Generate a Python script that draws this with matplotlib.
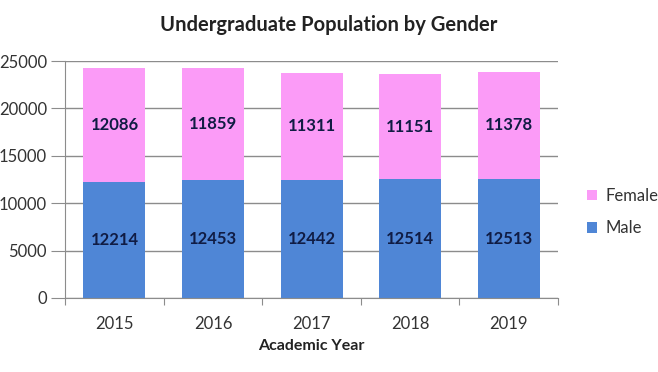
import numpy as np
import matplotlib.pyplot as plt

# Datos
years = ['2015', '2016', '2017', '2018', '2019']
male = [12214, 12453, 12442, 12514, 12513]
female = [12086, 11859, 11311, 11151, 11378]

plt.rcParams['font.family'] = ['Lato', 'DejaVu Sans']

fig = plt.figure(figsize=(6.58, 3.72), dpi=100)
ax = fig.add_axes([0.099, 0.199, 0.749, 0.637])

x = np.arange(len(years))
c_male = '#4f86d6'
c_female = '#fb9bf7'
c_text = '#101c44'

b1 = ax.bar(x, male, width=0.63, color=c_male, label='Male', zorder=2)
b2 = ax.bar(x, female, width=0.63, bottom=male, color=c_female, label='Female', zorder=2)

ax.bar_label(b1, labels=[str(v) for v in male], label_type='center',
             fontsize=12, fontweight='bold', color=c_text)
ax.bar_label(b2, labels=[str(v) for v in female], label_type='center',
             fontsize=12, fontweight='bold', color=c_text)

ax.set_xlim(-0.5, len(years) - 0.5)
ax.set_ylim(0, 25000)
ax.set_yticks(np.arange(0, 25001, 5000))
ax.yaxis.grid(True, color='#8c8c8c', linewidth=1, zorder=0)
ax.set_axisbelow(True)

# ticks de categoria en los limites (estilo Excel)
ax.set_xticks(np.arange(-0.5, len(years), 1))
ax.set_xticklabels([])
ax.set_xticks(x, minor=True)
ax.set_xticklabels(years, minor=True)
ax.tick_params(axis='x', which='minor', length=0, pad=13, labelsize=12, labelcolor='#333333')
ax.tick_params(axis='x', which='major', length=5, color='#8c8c8c')
ax.tick_params(axis='y', length=10, color='#8c8c8c', labelsize=12, labelcolor='#333333', pad=3)

for s in ['top', 'right']:
    ax.spines[s].set_visible(False)
for s in ['left', 'bottom']:
    ax.spines[s].set_color('#8c8c8c')

ax.set_xlabel('Academic Year', fontsize=11.5, fontweight='bold', color='#222222', labelpad=5)
fig.suptitle('Undergraduate Population by Gender', x=0.5, y=0.96,
             fontsize=14.5, fontweight='bold', color='#222222')

handles = [b2, b1]
fig.legend(handles, ['Female', 'Male'], loc='center left', bbox_to_anchor=(0.87, 0.43),
           frameon=False, fontsize=12, handlelength=0.6, handleheight=0.6,
           labelspacing=1.0, handletextpad=0.5, labelcolor='#333333')

fig.savefig('out.png', dpi=100)
